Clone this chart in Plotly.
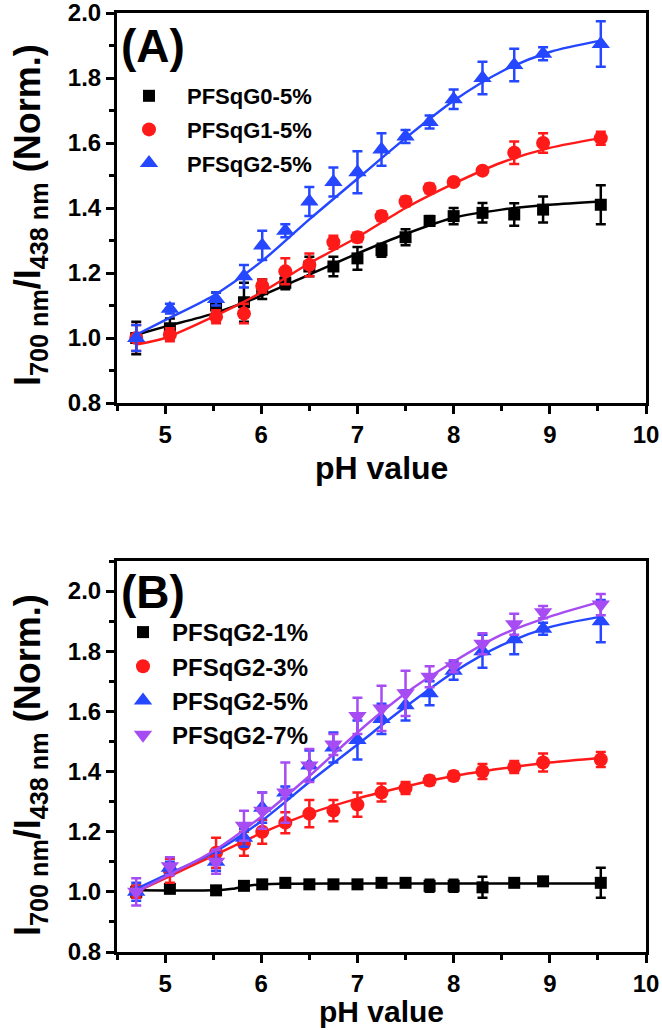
import plotly.graph_objects as go

# ---------------- data ----------------
ph = [4.7, 5.05, 5.53, 5.82, 6.01, 6.25, 6.5, 6.75, 7.0, 7.25, 7.5, 7.75, 8.0, 8.3, 8.63, 8.93, 9.53]

# Panel A
a_g0 = [1.00, 1.03, 1.10, 1.11, 1.15, 1.17, 1.22, 1.22, 1.245, 1.27, 1.31, 1.36, 1.375, 1.385, 1.38, 1.395, 1.41]
a_g0_err = [0.05, 0.03, 0.04, 0.06, 0.03, 0.02, 0.03, 0.03, 0.035, 0.02, 0.025, 0.015, 0.025, 0.03, 0.035, 0.04, 0.06]
a_g1 = [1.00, 1.01, 1.065, 1.075, 1.16, 1.205, 1.225, 1.295, 1.31, 1.375, 1.42, 1.46, 1.48, 1.515, 1.57, 1.60, 1.615]
a_g1_err = [0.04, 0.02, 0.02, 0.03, 0.02, 0.04, 0.035, 0.02, 0.015, 0.015, 0.015, 0.015, 0.01, 0.01, 0.035, 0.03, 0.02]
a_g2 = [1.00, 1.09, 1.12, 1.19, 1.285, 1.33, 1.42, 1.48, 1.51, 1.58, 1.62, 1.665, 1.735, 1.80, 1.84, 1.875, 1.905]
a_g2_err = [0.04, 0.015, 0.02, 0.035, 0.045, 0.02, 0.045, 0.045, 0.065, 0.05, 0.02, 0.02, 0.03, 0.05, 0.05, 0.02, 0.07]

fit_x = [4.7, 5.0, 5.5, 6.0, 6.5, 7.0, 7.5, 8.0, 8.5, 9.0, 9.53]
a_g0_fit = [1.01, 1.035, 1.075, 1.13, 1.195, 1.26, 1.32, 1.37, 1.395, 1.41, 1.42]
a_g1_fit = [0.98, 1.00, 1.065, 1.14, 1.23, 1.31, 1.40, 1.475, 1.54, 1.585, 1.615]
a_g2_fit = [1.01, 1.055, 1.13, 1.235, 1.365, 1.49, 1.615, 1.73, 1.82, 1.88, 1.915]

# Panel B
b_1 = [1.00, 1.01, 1.005, 1.02, 1.025, 1.03, 1.025, 1.025, 1.025, 1.03, 1.03, 1.02, 1.02, 1.015, 1.03, 1.035, 1.03]
b_1_err = [0.02, 0.01, 0.01, 0.01, 0.01, 0.015, 0.01, 0.01, 0.01, 0.01, 0.01, 0.02, 0.02, 0.035, 0.01, 0.01, 0.05]
b_3 = [1.00, 1.07, 1.13, 1.16, 1.20, 1.23, 1.26, 1.27, 1.29, 1.33, 1.345, 1.37, 1.385, 1.40, 1.415, 1.43, 1.44]
b_3_err = [0.02, 0.04, 0.05, 0.04, 0.04, 0.035, 0.045, 0.035, 0.04, 0.03, 0.02, 0.015, 0.015, 0.025, 0.02, 0.03, 0.025]
b_5 = [1.00, 1.08, 1.10, 1.18, 1.28, 1.33, 1.42, 1.48, 1.505, 1.575, 1.62, 1.66, 1.735, 1.80, 1.84, 1.875, 1.90]
b_5_err = [0.03, 0.02, 0.03, 0.03, 0.05, 0.02, 0.05, 0.05, 0.065, 0.05, 0.05, 0.04, 0.03, 0.055, 0.05, 0.02, 0.07]
b_7 = [1.00, 1.085, 1.10, 1.22, 1.27, 1.33, 1.42, 1.49, 1.585, 1.61, 1.66, 1.715, 1.75, 1.825, 1.89, 1.93, 1.955]
b_7_err = [0.045, 0.03, 0.04, 0.05, 0.06, 0.10, 0.055, 0.035, 0.06, 0.075, 0.075, 0.035, 0.02, 0.035, 0.035, 0.02, 0.035]

b_1_fit_x = [4.7, 5.5, 5.7, 5.9, 6.2, 7.0, 8.0, 9.0, 9.53]
b_1_fit = [1.005, 1.005, 1.01, 1.022, 1.027, 1.028, 1.028, 1.028, 1.028]
b_3_fit = [1.00, 1.045, 1.12, 1.195, 1.26, 1.31, 1.35, 1.385, 1.41, 1.43, 1.445]
b_5_fit = [1.01, 1.055, 1.13, 1.235, 1.365, 1.49, 1.615, 1.73, 1.82, 1.88, 1.915]
b_7_fit = [1.00, 1.05, 1.135, 1.25, 1.385, 1.53, 1.66, 1.765, 1.855, 1.915, 1.965]

names_a = ["PFSqG0-5%", "PFSqG1-5%", "PFSqG2-5%"]
names_b = ["PFSqG2-1%", "PFSqG2-3%", "PFSqG2-5%", "PFSqG2-7%"]

# ---------------- style ----------------
BLACK, RED, BLUE, PURPLE = "#000000", "#ff1a1a", "#2447ff", "#a64cf2"
FONT = "Liberation Sans, Arial, sans-serif"
W, H = 662, 1030

fig = go.Figure()


def add_series(x, y, err, fx, fy, name, color, symbol, size, xa, ya, legend):
    fig.add_trace(go.Scatter(
        x=fx, y=fy, mode="lines", line=dict(color=color, width=2.5, shape="spline", smoothing=0.8),
        xaxis=xa, yaxis=ya, showlegend=False, hoverinfo="skip"))
    fig.add_trace(go.Scatter(
        x=x, y=y, mode="markers", name=name,
        marker=dict(symbol=symbol, size=size, color=color, line=dict(width=0)),
        error_y=dict(type="data", array=err, color=color, thickness=2.5, width=5),
        xaxis=xa, yaxis=ya, legend=legend, legendgroup=name + legend))


add_series(ph, a_g0, a_g0_err, fit_x, a_g0_fit, names_a[0], BLACK, "square", 12, "x", "y", "legend")
add_series(ph, a_g1, a_g1_err, fit_x, a_g1_fit, names_a[1], RED, "circle", 14, "x", "y", "legend")
add_series(ph, a_g2, a_g2_err, fit_x, a_g2_fit, names_a[2], BLUE, "triangle-up", 16, "x", "y", "legend")

add_series(ph, b_1, b_1_err, b_1_fit_x, b_1_fit, names_b[0], BLACK, "square", 12, "x2", "y2", "legend2")
add_series(ph, b_3, b_3_err, fit_x, b_3_fit, names_b[1], RED, "circle", 14, "x2", "y2", "legend2")
add_series(ph, b_5, b_5_err, fit_x, b_5_fit, names_b[2], BLUE, "triangle-up", 16, "x2", "y2", "legend2")
add_series(ph, b_7, b_7_err, fit_x, b_7_fit, names_b[3], PURPLE, "triangle-down", 16, "x2", "y2", "legend2")

xdom = [117 / W, 646 / W]
ydomA = [1 - 403 / H, 1 - 13 / H]
ydomB = [1 - 952 / H, 1 - 561 / H]

tickfont = dict(family=FONT, size=24, color="black", weight="bold")


def xaxis_cfg(anchor):
    return dict(domain=xdom, anchor=anchor, range=[4.5, 10], tick0=5, dtick=1,
                ticks="outside", ticklen=8, tickwidth=2.5, tickcolor="black",
                showline=True, linewidth=3, linecolor="black", mirror=True,
                showgrid=False, zeroline=False, tickfont=tickfont, ticklabeloverflow="allow",
                minor=dict(dtick=0.5, tick0=4.5, ticks="outside", ticklen=5, tickwidth=2.5, tickcolor="black", showgrid=False))


def yaxis_cfg(anchor, dom, rng):
    return dict(domain=dom, anchor=anchor, range=rng, tick0=0.8, dtick=0.2, tickformat=".1f",
                ticks="outside", ticklen=8, tickwidth=2.5, tickcolor="black",
                showline=True, linewidth=3, linecolor="black", mirror=True,
                showgrid=False, zeroline=False, tickfont=tickfont, ticklabeloverflow="allow",
                minor=dict(dtick=0.1, tick0=0.8, ticks="outside", ticklen=5, tickwidth=2.5, tickcolor="black", showgrid=False))


ytitle = "I<sub>700 nm</sub>/I<sub>438 nm</sub> (Norm.)"
annfont = dict(family=FONT, color="black", weight="bold")

annotations = [
    dict(text="(A)", x=153 / W, y=1 - 46 / H, xref="paper", yref="paper", showarrow=False,
         font=dict(**annfont, size=46), xanchor="center", yanchor="middle"),
    dict(text="(B)", x=153 / W, y=1 - 592 / H, xref="paper", yref="paper", showarrow=False,
         font=dict(**annfont, size=46), xanchor="center", yanchor="middle"),
    dict(text="pH value", x=381 / W, y=1 - 468 / H, xref="paper", yref="paper", showarrow=False,
         font=dict(**annfont, size=32), xanchor="center", yanchor="middle"),
    dict(text="pH value", x=381 / W, y=1 - 1011 / H, xref="paper", yref="paper", showarrow=False,
         font=dict(**annfont, size=30), xanchor="center", yanchor="middle"),
    dict(text=ytitle, x=30 / W, y=1 - 215 / H, xref="paper", yref="paper", showarrow=False, textangle=-90,
         font=dict(**annfont, size=36), xanchor="center", yanchor="middle"),
    dict(text=ytitle, x=30 / W, y=1 - 765 / H, xref="paper", yref="paper", showarrow=False, textangle=-90,
         font=dict(**annfont, size=36), xanchor="center", yanchor="middle"),
]

fig.update_layout(
    width=W, height=H,
    margin=dict(l=0, r=0, t=0, b=0, autoexpand=False),
    paper_bgcolor="white", plot_bgcolor="white",
    font=dict(family=FONT, color="black"),
    xaxis=xaxis_cfg("y"), yaxis=yaxis_cfg("x", ydomA, [0.8, 2.0]),
    xaxis2=xaxis_cfg("y2"), yaxis2=yaxis_cfg("x2", ydomB, [0.8, 2.1]),
    legend=dict(x=111 / W, y=1 - 75 / H, xanchor="left", yanchor="top", bgcolor="rgba(0,0,0,0)",
                font=dict(family=FONT, size=22, color="black", weight="bold"),
                itemwidth=66, tracegroupgap=2),
    legend2=dict(x=114 / W, y=1 - 610 / H, xanchor="left", yanchor="top", bgcolor="rgba(0,0,0,0)",
                 font=dict(family=FONT, size=24, color="black", weight="bold"),
                 itemwidth=48, tracegroupgap=0),
    annotations=annotations,
)

fig.write_html("out.html", config={"displayModeBar": False},
               post_script="document.body.style.margin='0';document.body.style.overflow='hidden';")
